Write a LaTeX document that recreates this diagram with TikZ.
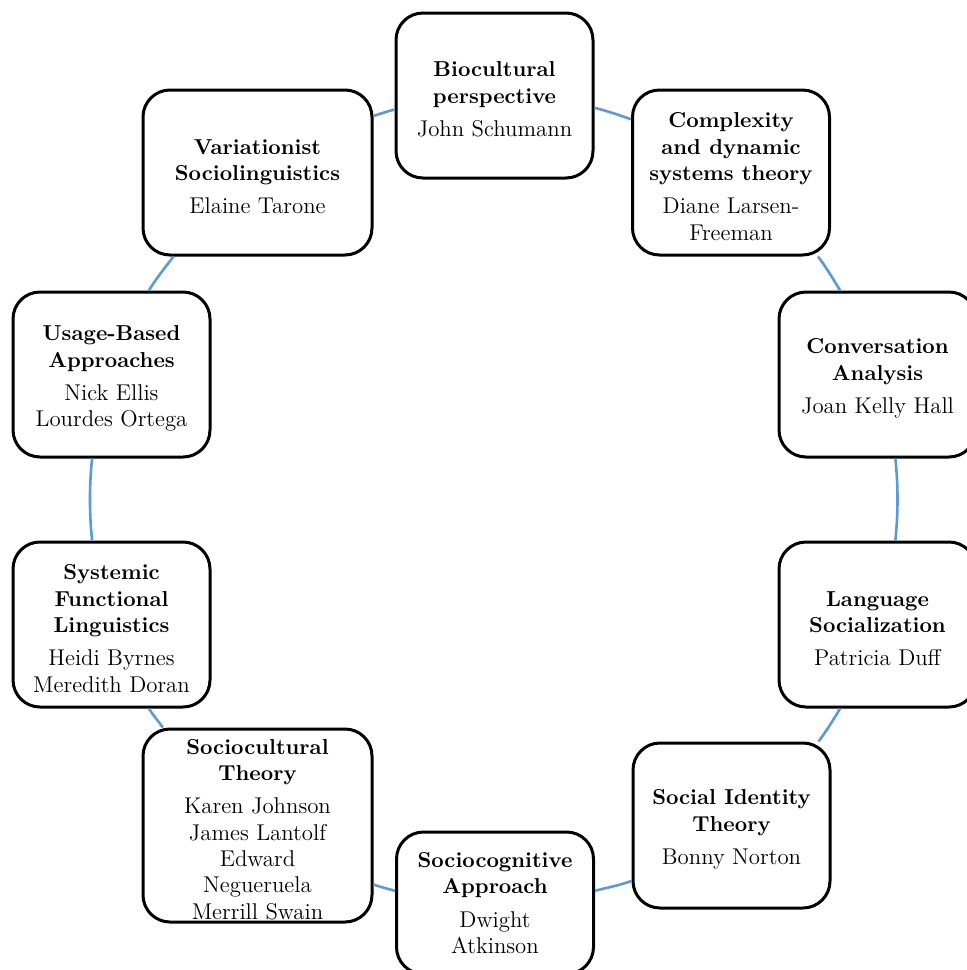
\documentclass[tikz,border=0pt]{standalone}
\usepackage{xcolor}
\definecolor{LinkBlue}{RGB}{91,155,213}
\newcommand{\tname}[1]{{\fontsize{10.8}{13.2}\selectfont\bfseries #1}}
\newcommand{\tlead}{\rule{0pt}{11.5pt}}

\begin{document}
\begin{tikzpicture}[x=0.5pt, y=-0.5pt,
        topic/.style={draw, line width=1.5pt, rounded corners=13.5pt, fill=white, align=center,
            inner sep=1pt, minimum width=98.5pt, minimum height=82.5pt,
            font=\fontsize{11.4}{13.2}\selectfont},
        wide/.style={minimum width=114.5pt},
        link/.style={line width=1.3pt, LinkBlue, looseness=0.85}]
        \useasboundingbox (0,0) rectangle (967,970);

        \node[topic] (bio) at (494.5,95.5) {\tlead\tname{Biocultural}\\\tname{perspective}\\[3.4pt] John Schumann};
        \node[topic] (cplx) at (731,172.5) {\tlead\tname{Complexity}\\\tname{and dynamic}\\\tname{systems theory}\\[3.4pt] Diane Larsen-\\Freeman};
        \node[topic] (conv) at (877.5,374.5) {\tlead\tname{Conversation}\\\tname{Analysis}\\[3.4pt] Joan Kelly Hall};
        \node[topic] (lang) at (877.5,624.5) {\tlead\tname{Language}\\\tname{Socialization}\\[3.4pt] Patricia Duff};
        \node[topic] (sid) at (731.5,825.5) {\tlead\tname{Social Identity}\\\tname{Theory}\\[3.4pt] Bonny Norton};
        \node[topic, minimum height=71pt] (scog) at (495,903) {\tname{Sociocognitive}\\\tname{Approach}\\[3.4pt] Dwight\\Atkinson};
        \node[topic, wide, minimum height=96.5pt] (scult) at (257.5,825.5) {\tlead\tname{Sociocultural}\\\tname{Theory}\\[3.4pt] Karen Johnson\\James Lantolf\\Edward\\Negueruela\\Merrill Swain};
        \node[topic] (sfl) at (111.5,624.5) {\tlead\tname{Systemic}\\\tname{Functional}\\\tname{Linguistics}\\[3.4pt] Heidi Byrnes\\Meredith Doran};
        \node[topic] (ubased) at (111.5,374.5) {\tlead\tname{Usage-Based}\\\tname{Approaches}\\[3.4pt] Nick Ellis\\Lourdes Ortega};
        \node[topic, wide] (var) at (257.5,172.5) {\tlead\tname{Variationist}\\\tname{Sociolinguistics}\\[3.4pt] Elaine Tarone};

        % arcs of the ring, clockwise from the top
        \draw[link] (bio.-7.8) to[out=-14.3, in=159.9] (cplx.152.5);
        \draw[link] (cplx.-44.8) to[out=-52.6, in=121.0] (conv.114.8);
        \draw[link] (conv.-78.2) to[out=-83.9, in=84.0] (lang.78.2);
        \draw[link] (lang.-114.5) to[out=-120.9, in=53.0] (sid.44.5);
        \draw[link] (sid.-151.7) to[out=-159.8, in=14.3] (scog.7.0);
        \draw[link] (scog.173.5) to[out=166.2, in=-17.5] (scult.-27.4);
        \draw[link] (scult.134.9) to[out=124.6, in=-59.1] (sfl.-66.7);
        \draw[link] (sfl.103.2) to[out=96.0, in=-96.1] (ubased.-103.1);
        \draw[link] (ubased.66.3) to[out=59.0, in=-127.4] (var.-135.7);
        \draw[link] (var.26.6) to[out=17.5, in=-166.0] (bio.-172.5);
    \end{tikzpicture}
\end{document}
